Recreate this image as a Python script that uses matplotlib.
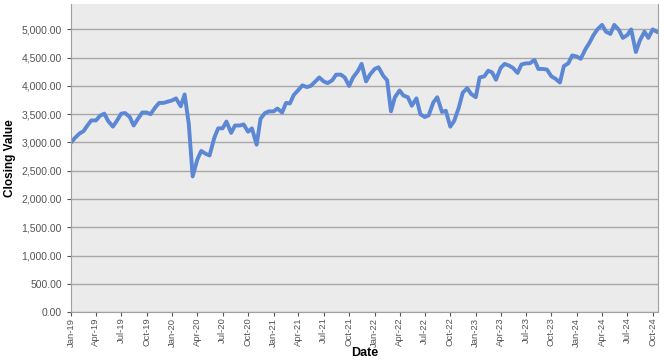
import pandas as pd
import matplotlib.pyplot as plt
import matplotlib.dates as mdates
from matplotlib.ticker import FuncFormatter

plt.rcParams['font.family'] = ['Liberation Sans', 'DejaVu Sans']

# значения примерно на 1-е и 15-е число каждого месяца
close_2019 = [3000, 3080, 3160, 3200, 3300, 3390, 3390, 3470, 3510, 3380, 3280, 3380,
              3510, 3520, 3450, 3300, 3430, 3530, 3530, 3500, 3620, 3700, 3700, 3720]
close_2020 = [3745, 3780, 3640, 3850, 3330, 2400, 2700, 2850, 2800, 2770, 3080, 3250,
              3250, 3370, 3170, 3300, 3300, 3320, 3190, 3250, 2960, 3420, 3520, 3550]
close_2021 = [3550, 3600, 3530, 3700, 3690, 3840, 3930, 4010, 3980, 4000, 4080, 4150,
              4080, 4050, 4100, 4200, 4200, 4150, 4000, 4150, 4260, 4390, 4080, 4200]
close_2022 = [4300, 4330, 4180, 4100, 3550, 3800, 3920, 3830, 3800, 3650, 3780, 3500,
              3450, 3480, 3710, 3800, 3540, 3560, 3280, 3380, 3620, 3880, 3960, 3860]
close_2023 = [3800, 4150, 4170, 4270, 4240, 4110, 4320, 4390, 4360, 4320, 4230, 4380,
              4400, 4400, 4460, 4300, 4300, 4290, 4170, 4130, 4060, 4350, 4400, 4540]
close_2024 = [4520, 4480, 4650, 4760, 4900, 5000, 5080, 4960, 4920, 5080, 4990, 4850,
              4900, 5000, 4600, 4800, 4960, 4850, 5000, 4960]

values = close_2019 + close_2020 + close_2021 + close_2022 + close_2023 + close_2024
dates = pd.date_range('2019-01-01', periods=len(values), freq='SMS')
df = pd.DataFrame({'Date': dates, 'Close': values})

fig = plt.figure(figsize=(6.64, 3.62), dpi=100)
ax = fig.add_axes([0.107, 0.138, 0.884, 0.851])
ax.set_facecolor('#ebebeb')

ax.plot(df['Date'], df['Close'], color='#5b87d4', lw=2.8)

ax.set_ylim(0, 5450)
ax.set_yticks(range(0, 5001, 500))
ax.yaxis.set_major_formatter(FuncFormatter(lambda v, p: f'{v:,.2f}'))
ax.grid(axis='y', color='#a8a8a8', lw=1)
ax.set_axisbelow(True)

ax.set_xlim(pd.Timestamp('2019-01-01'), pd.Timestamp('2024-10-20'))
ax.xaxis.set_major_locator(mdates.MonthLocator(bymonth=[1, 4, 7, 10]))
ax.xaxis.set_major_formatter(mdates.DateFormatter('%b-%y'))
plt.setp(ax.get_xticklabels(), rotation=90)

ax.tick_params(axis='y', labelsize=7.5, colors='#555555', length=3)
ax.tick_params(axis='x', labelsize=6.8, colors='#555555', length=3, pad=1)
for s in ['left', 'bottom', 'right']:
    ax.spines[s].set_color('#a0a0a0')
ax.spines['top'].set_visible(False)

ax.set_xlabel('Date', fontsize=9, fontweight='bold', labelpad=0)
ax.set_ylabel('Closing Value', fontsize=8.5, fontweight='bold')

plt.savefig('out.png')
plt.close()
